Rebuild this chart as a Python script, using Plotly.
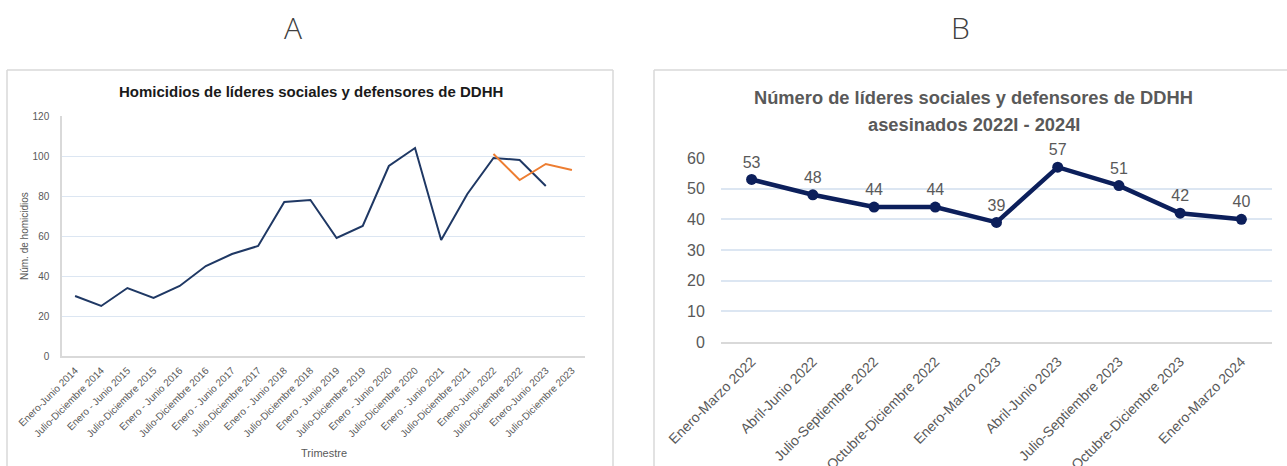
import plotly.graph_objects as go

W, H = 1287, 466

# ---- Data: panel A ----
periodos_a = [
    "Enero-Junio 2014", "Julio-Diciembre 2014", "Enero - Junio 2015", "Julio-Diciembre 2015",
    "Enero - Junio 2016", "Julio-Diciembre 2016", "Enero - Junio 2017", "Julio.Diciembre 2017",
    "Enero - Junio 2018", "Julio-Diciembre 2018", "Enero - Junio 2019", "Julio-Diciembre 2019",
    "Enero - Junio 2020", "Julio-Diciembre 2020", "Enero - Junio 2021", "Julio-Diciembre 2021",
    "Enero-Junio 2022", "Julio-Diciembre 2022", "Enero-Junio 2023", "Julio-Diciembre 2023",
]
homicidios_azul = [30, 25, 34, 29, 35, 45, 51, 55, 77, 78, 59, 65, 95, 104, 58, 81, 99, 98, 85, None]
homicidios_naranja = [None] * 16 + [101, 88, 96, 93]
yticks_a = [0, 20, 40, 60, 80, 100, 120]

# ---- Data: panel B ----
periodos_b = [
    "Enero-Marzo 2022", "Abril-Junio 2022", "Julio-Septiembre 2022", "Octubre-Diciembre 2022",
    "Enero-Marzo 2023", "Abril-Junio 2023", "Julio-Septiembre 2023", "Octubre-Diciembre 2023",
    "Enero-Marzo 2024",
]
asesinados_b = [53, 48, 44, 44, 39, 57, 51, 42, 40]
yticks_b = [0, 10, 20, 30, 40, 50, 60]


def px(x):
    return x / W


def py(y):
    return 1 - y / H


NARROW = "Liberation Sans Narrow, Arial Narrow, Liberation Sans, Arial, sans-serif"
SANS = "Liberation Sans, Arial, sans-serif"
GRID = "#dce6f2"
GRAY = "#595959"

fig = go.Figure()

fig.add_trace(go.Scatter(
    x=periodos_a, y=homicidios_azul, mode="lines",
    line=dict(color="#1f3864", width=2), xaxis="x", yaxis="y",
    showlegend=False, connectgaps=False,
))
fig.add_trace(go.Scatter(
    x=periodos_a, y=homicidios_naranja, mode="lines",
    line=dict(color="#ed7d31", width=2), xaxis="x", yaxis="y",
    showlegend=False, connectgaps=False,
))
fig.add_trace(go.Scatter(
    x=periodos_b, y=asesinados_b, mode="lines+markers+text",
    line=dict(color="#0c1f5b", width=4.5),
    marker=dict(color="#0c1f5b", size=11),
    text=[str(v) for v in asesinados_b], textposition="top center",
    textfont=dict(family=SANS, size=16, color=GRAY),
    xaxis="x2", yaxis="y2", showlegend=False, cliponaxis=False,
))

fig.update_layout(
    width=W, height=H,
    margin=dict(l=0, r=0, t=0, b=0, autoexpand=False),
    paper_bgcolor="white", plot_bgcolor="white",
    xaxis=dict(
        domain=[px(62), px(585)], type="category", categoryorder="array",
        categoryarray=periodos_a, range=[-0.5, 19.5], automargin=False,
        showgrid=False, showline=True, linecolor="#d9d9d9", linewidth=1.5,
        tickangle=-45, tickfont=dict(family=NARROW, size=10, color=GRAY),
        ticks="outside", ticklen=3, tickcolor="rgba(0,0,0,0)", fixedrange=True,
    ),
    yaxis=dict(
        domain=[py(356), py(116)], range=[0, 120], tickvals=yticks_a, automargin=False,
        showgrid=True, gridcolor=GRID, gridwidth=1,
        showline=True, linecolor="#d9d9d9", linewidth=1.5, zeroline=False,
        tickfont=dict(family=NARROW, size=10, color=GRAY),
        ticks="outside", ticklen=9, tickcolor="rgba(0,0,0,0)",
    ),
    xaxis2=dict(
        domain=[px(721), px(1272)], type="category", categoryorder="array",
        categoryarray=periodos_b, range=[-0.5, 8.5], automargin=False,
        showgrid=False, showline=True, linecolor="#d9d9d9", linewidth=2,
        tickangle=-45, tickfont=dict(family=SANS, size=14, color=GRAY),
        ticks="outside", ticklen=4, tickcolor="rgba(0,0,0,0)", anchor="y2",
    ),
    yaxis2=dict(
        domain=[py(342), py(158)], range=[0, 60], tickvals=yticks_b, automargin=False,
        showgrid=True, gridcolor=GRID, gridwidth=1.5, zeroline=False,
        showline=False, tickfont=dict(family=SANS, size=16, color=GRAY),
        ticks="outside", ticklen=12, tickcolor="rgba(0,0,0,0)", anchor="x2",
    ),
)

border = dict(color="#d9d9d9", width=1.5)
shapes = [
    # panel A frame
    dict(type="line", xref="paper", yref="paper", x0=px(7), x1=px(7), y0=py(70), y1=py(470), line=border),
    dict(type="line", xref="paper", yref="paper", x0=px(7), x1=px(613), y0=py(70), y1=py(70), line=border),
    dict(type="line", xref="paper", yref="paper", x0=px(613), x1=px(613), y0=py(70), y1=py(470), line=border),
    # panel B frame
    dict(type="line", xref="paper", yref="paper", x0=px(654), x1=px(654), y0=py(70), y1=py(470), line=border),
    dict(type="line", xref="paper", yref="paper", x0=px(654), x1=px(1290), y0=py(70), y1=py(70), line=border),
]
fig.update_layout(shapes=shapes)

ann = [
    dict(text="A", x=px(293), y=py(28), font=dict(family="Open Sans, sans-serif", size=30, color="#404040", weight=300)),
    dict(text="B", x=px(960), y=py(28), font=dict(family="Open Sans, sans-serif", size=30, color="#404040", weight=300)),
    dict(text="<b>Homicidios de líderes sociales y defensores de DDHH</b>", x=px(311), y=py(91),
         font=dict(family=NARROW, size=15, color="#1a1a1a")),
    dict(text="Núm. de homicidios", x=px(24), y=py(236), textangle=-90,
         font=dict(family=SANS, size=10, color=GRAY)),
    dict(text="Trimestre", x=px(324), y=py(453), font=dict(family=NARROW, size=11, color=GRAY)),
    dict(text="<b>Número de líderes sociales y defensores de DDHH</b>",
         x=px(973), y=py(97), font=dict(family=SANS, size=18.3, color=GRAY)),
    dict(text="<b>asesinados 2022I - 2024I</b>",
         x=px(974), y=py(124), font=dict(family=SANS, size=18.3, color=GRAY)),
]
for a in ann:
    a.update(xref="paper", yref="paper", showarrow=False, xanchor="center", yanchor="middle")
fig.update_layout(annotations=ann)

fig.write_html(
    "out.html",
    config={"displayModeBar": False},
    post_script="document.body.style.margin='0';document.body.style.overflow='hidden';",
)
